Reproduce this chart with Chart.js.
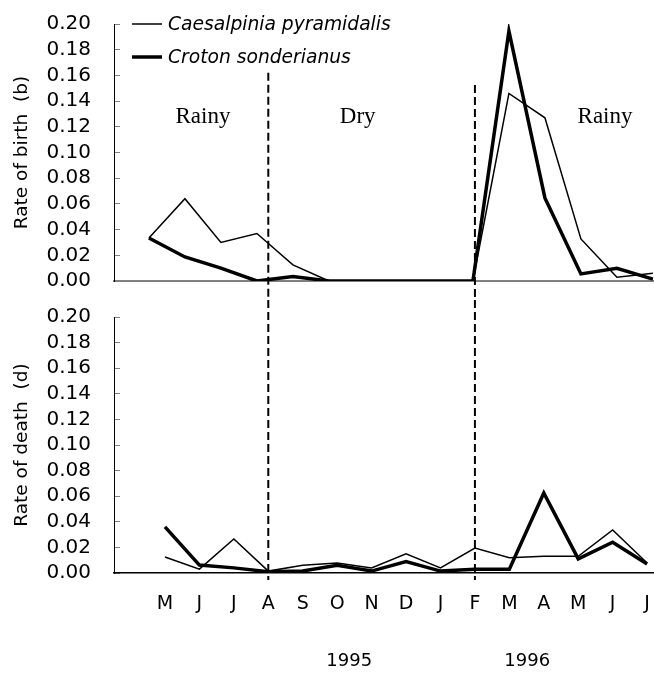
<!DOCTYPE html>
<html>
<head>
<meta charset="utf-8">
<script src="https://cdn.jsdelivr.net/npm/chart.js@4"></script>
<style>
  body { margin: 0; background: #fff; }
  #wrap { position: relative; width: 654px; height: 673px; }
  .panel { position: absolute; left: 0; width: 654px; }
</style>
</head>
<body>
<div id="wrap">
  <div class="panel" style="top:0;height:300px"><canvas id="birthChart"></canvas></div>
  <div class="panel" style="top:300px;height:373px"><canvas id="deathChart"></canvas></div>
</div>
<script>
const months = ['M', 'J', 'J', 'A', 'S', 'O', 'N', 'D', 'J', 'F', 'M', 'A', 'M', 'J', 'J'];
const years = ['1995', '1996'];
const seriesNames = ['Caesalpinia pyramidalis', 'Croton sonderianus'];
const yTicks = [0, 0.02, 0.04, 0.06, 0.08, 0.10, 0.12, 0.14, 0.16, 0.18, 0.20];

// rate of birth (b)
const birthCaesalpinia = [0.0335, 0.064, 0.030, 0.037, 0.0125, 0, 0, 0, 0, 0, 0.146, 0.127, 0.0327, 0.003, 0.006];
const birthCroton = [0.0335, 0.0187, 0.010, 0, 0.0035, 0, 0, 0, 0, 0, 0.1945, 0.0646, 0.0055, 0.0099, 0.0015];

// rate of death (d)
const deathCaesalpinia = [0.0125, 0.003, 0.0266, 0.0015, 0.006, 0.0078, 0.004, 0.015, 0.004, 0.0195, 0.012, 0.013, 0.013, 0.0336, 0.0078];
const deathCroton = [0.036, 0.0062, 0.004, 0.001, 0.0015, 0.006, 0.0015, 0.009, 0.0015, 0.003, 0.003, 0.0625, 0.011, 0.024, 0.007];

// season boundaries (month index: August 1995, February 1996)
const seasonBreaks = [3, 9];
const seasons = ['Rainy', 'Dry', 'Rainy'];

const FONT = 'DejaVu Sans';

function points(vals) {
  return vals.map((v, i) => ({ x: i, y: v }));
}

function lineSet(label, vals, width) {
  return {
    label: label,
    data: points(vals),
    borderColor: '#000',
    backgroundColor: '#000',
    borderWidth: width,
    pointRadius: 0,
    tension: 0,
    fill: false
  };
}

function yAxis(title) {
  return {
    type: 'linear',
    min: 0,
    max: 0.2,
    border: { color: '#000', width: 1 },
    grid: { drawOnChartArea: false, tickLength: -6, color: '#808080' },
    ticks: {
      autoSkip: false,
      padding: 29,
      color: '#000',
      font: { family: FONT, size: 20 },
      callback: (v) => v.toFixed(2)
    },
    afterBuildTicks: (s) => { s.ticks = yTicks.map((v) => ({ value: v })); },
    title: {
      display: true,
      text: title,
      color: '#000',
      font: { family: FONT, size: 18.5 },
      padding: { top: 11, bottom: 0 }
    },
    afterFit: (s) => {
      s.width = 114;
      s.paddingTop = 10;
      s.paddingBottom = 10;
    }
  };
}

function noSidePadding(s) {
  s.paddingLeft = 0;
  s.paddingRight = 0;
}

// dashed vertical lines marking the seasons
const seasonLines = {
  id: 'seasonLines',
  afterDatasetsDraw(chart, args, opts) {
    const ctx = chart.ctx;
    const xs = chart.scales[opts.scaleID];
    const ys = chart.scales.y;
    ctx.save();
    ctx.strokeStyle = '#000';
    ctx.lineWidth = 2;
    ctx.setLineDash([8, 4]);
    seasonBreaks.forEach((m, i) => {
      const x = xs.getPixelForValue(m);
      const y1 = opts.from ? ys.getPixelForValue(opts.from[i]) : 0;
      const y2 = opts.toEdge ? chart.height : chart.chartArea.bottom + 7;
      ctx.beginPath();
      ctx.moveTo(x, y1);
      ctx.lineTo(x, y2);
      ctx.stroke();
    });
    ctx.restore();
  }
};

// season names and legend inside the upper panel
const birthNotes = {
  id: 'birthNotes',
  afterDraw(chart, args, opts) {
    const ctx = chart.ctx;
    const area = chart.chartArea;
    ctx.save();
    ctx.fillStyle = '#000';
    ctx.textBaseline = 'middle';
    ctx.textAlign = 'center';
    ctx.font = '23px "Liberation Serif"';
    const ty = chart.scales.y.getPixelForValue(opts.seasonY);
    seasons.forEach((s, i) => {
      ctx.fillText(s, chart.scales.x.getPixelForValue(opts.seasonX[i]), ty);
    });
    ctx.textAlign = 'left';
    ctx.font = 'italic 18.7px "' + FONT + '"';
    chart.data.datasets.forEach((ds, i) => {
      const y = area.top + i * 33;
      ctx.strokeStyle = '#000';
      ctx.lineWidth = ds.borderWidth;
      ctx.beginPath();
      ctx.moveTo(area.left + 18, y);
      ctx.lineTo(area.left + 48, y);
      ctx.stroke();
      ctx.fillText(ds.label, area.left + 54, y + 1);
    });
    ctx.restore();
  }
};

new Chart(document.getElementById('birthChart'), {
  type: 'line',
  data: {
    datasets: [
      lineSet(seriesNames[0], birthCaesalpinia, 1.5),
      lineSet(seriesNames[1], birthCroton, 3.5)
    ]
  },
  options: {
    animation: false,
    responsive: true,
    maintainAspectRatio: false,
    layout: { padding: { top: 24, left: 0, right: 0, bottom: 0 } },
    plugins: {
      legend: { display: false },
      tooltip: { enabled: false },
      seasonLines: { scaleID: 'xm', from: [0.162, 0.1525], toEdge: true },
      birthNotes: { seasonX: [1.5, 5.8, 12.67], seasonY: 0.128 }
    },
    scales: {
      x: {
        type: 'linear',
        min: -0.97,
        max: 14.03,
        border: { color: '#808080', width: 2 },
        grid: { display: false, drawTicks: false },
        ticks: { display: false },
        afterFit: (s) => { s.height = 19; noSidePadding(s); }
      },
      xm: { type: 'linear', display: false, min: -1.48, max: 14.2 },
      y: yAxis('Rate of birth  (b)')
    }
  },
  plugins: [seasonLines, birthNotes]
});

new Chart(document.getElementById('deathChart'), {
  type: 'line',
  data: {
    datasets: [
      lineSet(seriesNames[0], deathCaesalpinia, 1.5),
      lineSet(seriesNames[1], deathCroton, 3.5)
    ]
  },
  options: {
    animation: false,
    responsive: true,
    maintainAspectRatio: false,
    layout: { padding: { top: 17, left: 0, right: 0, bottom: 0 } },
    plugins: {
      legend: { display: false },
      tooltip: { enabled: false },
      seasonLines: { scaleID: 'x', toEdge: false }
    },
    scales: {
      x: {
        type: 'linear',
        min: -1.48,
        max: 14.2,
        weight: 0,
        border: { color: '#000', width: 1.5 },
        grid: { display: false, drawTicks: false },
        ticks: {
          autoSkip: false,
          maxRotation: 0,
          padding: 20,
          color: '#000',
          font: { family: FONT, size: 19 },
          callback: (v) => months[v]
        },
        afterBuildTicks: (s) => { s.ticks = months.map((m, i) => ({ value: i })); },
        afterFit: (s) => { s.height = 50; noSidePadding(s); }
      },
      year: {
        type: 'linear',
        position: 'bottom',
        weight: 1,
        min: -1.48,
        max: 14.2,
        border: { display: false },
        grid: { display: false, drawTicks: false },
        ticks: {
          autoSkip: false,
          maxRotation: 0,
          padding: 28,
          color: '#000',
          font: { family: FONT, size: 18 },
          callback: (v, i) => years[i]
        },
        afterBuildTicks: (s) => { s.ticks = [5.35, 10.52].map((v) => ({ value: v })); },
        afterFit: (s) => { s.height = 50; noSidePadding(s); }
      },
      y: yAxis('Rate of death  (d)')
    }
  },
  plugins: [seasonLines]
});
</script>
</body>
</html>
